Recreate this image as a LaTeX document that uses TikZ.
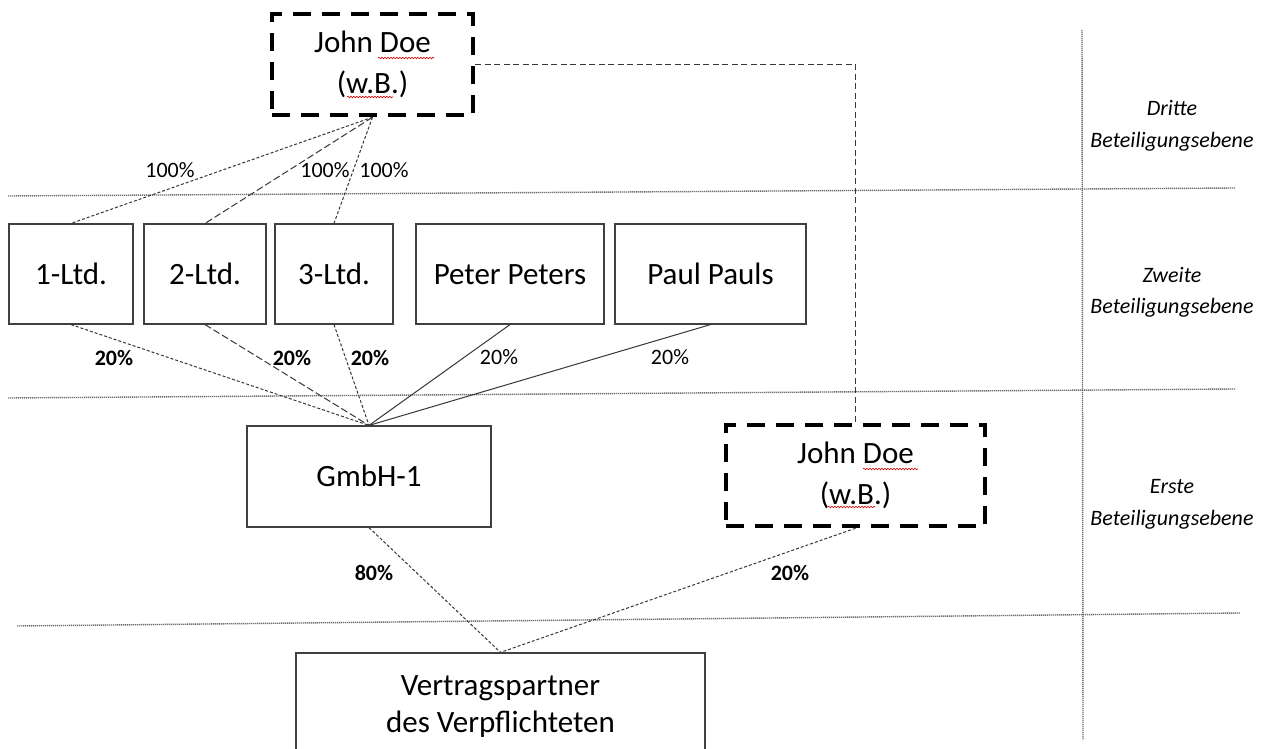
\documentclass[tikz,border=0pt]{standalone}
\usepackage{fontspec}
\setmainfont{Carlito}
\usetikzlibrary{decorations.pathmorphing}
\definecolor{boxgray}{RGB}{64,64,64}
\definecolor{darkline}{RGB}{55,55,55}
\definecolor{lvlgray}{RGB}{110,110,110}
\begin{document}
\begin{tikzpicture}[x=1pt,y=-1pt,
  box/.style={draw=boxgray, line width=1.2pt, fill=white, inner sep=0pt, font=\fontsize{31}{41}\selectfont, align=center},
  sbox/.style={draw=boxgray, line width=1.2pt, fill=white, inner sep=0pt, font=\fontsize{31}{41}\selectfont, text height=20pt, text depth=0pt},
  jdbox/.style={draw=black, line width=4.5pt, dash pattern=on 18pt off 11pt, fill=white, inner sep=0pt, font=\fontsize{31}{41}\selectfont, align=center},
  lvl/.style={draw=lvlgray, line width=1.4pt, dash pattern=on 1.2pt off 0.8pt},
  sdash/.style={draw=darkline, line width=1pt, dash pattern=on 3pt off 2pt},
  ldash/.style={draw=darkline, line width=1pt, dash pattern=on 7pt off 3pt},
  mdash/.style={draw=darkline, line width=1pt, dash pattern=on 6pt off 3.5pt},
  solidc/.style={draw=darkline, line width=1pt},
  pct/.style={font=\fontsize{22}{26}\selectfont},
  bpct/.style={font=\fontsize{22}{26}\selectfont\bfseries},
  lev/.style={font=\fontsize{22}{26}\selectfont\itshape, anchor=base},
  squig/.style={draw=red!85!black, line width=0.6pt, decorate, decoration={snake, amplitude=0.8pt, segment length=3pt}}
]
\clip (0,0) rectangle (1267,749);
\fill[white] (0,0) rectangle (1267,749);

% level lines
\draw[lvl] (8,196) -- (1235,188);
\draw[lvl] (8,398) -- (1235,389);
\draw[lvl] (17,626) -- (1240,613);
\draw[lvl] (1082,30) -- (1083,740);

% level labels
\node[lev] (d1) at (1172,116) {Dritte};
\node[lev] (d2) at (1172,148) {Beteiligungsebene};
\node[lev] (z1) at (1172,282) {Zweite};
\node[lev] (z2) at (1172,313) {Beteiligungsebene};
\node[lev] (e1) at (1172,493) {Erste};
\node[lev] (e2) at (1172,525) {Beteiligungsebene};

% boxes
\node[jdbox, minimum width=201pt, minimum height=101pt] (jdtop) at (372.5,64.5) {John Doe\\(w.B.)};
\node[sbox, minimum width=124pt, minimum height=100pt] (l1) at (71,274) {1-Ltd.};
\node[sbox, minimum width=122pt, minimum height=100pt] (l2) at (205,274) {2-Ltd.};
\node[sbox, minimum width=118pt, minimum height=100pt] (l3) at (334,274) {3-Ltd.};
\node[sbox, minimum width=188pt, minimum height=100pt] (peter) at (510,274) {Peter Peters};
\node[sbox, minimum width=191pt, minimum height=100pt] (paul) at (710.5,274) {Paul Pauls};
\node[sbox, minimum width=244pt, minimum height=101pt] (gmbh) at (369,476.5) {GmbH-1};
\node[jdbox, minimum width=259pt, minimum height=101pt] (jdlow) at (855.5,475.5) {John Doe\\(w.B.)};
\node[box, minimum width=409pt, minimum height=107pt, font=\fontsize{31}{37}\selectfont] (vertrag) at (500.5,706.5) {Vertragspartner\\des Verpflichteten};

% connectors
\draw[sdash] (jdtop.south) -- (l1.north);
\draw[ldash] (jdtop.south) -- (l2.north);
\draw[sdash] (jdtop.south) -- (l3.north);
\draw[mdash] (jdtop.east) -| (jdlow.north);
\draw[sdash] (l1.south) -- (gmbh.north);
\draw[ldash] (l2.south) -- (gmbh.north);
\draw[sdash] (l3.south) -- (gmbh.north);
\draw[solidc] (peter.south) -- (gmbh.north);
\draw[solidc] (paul.south) -- (gmbh.north);
\draw[sdash] (gmbh.south) -- (vertrag.north);
\draw[sdash] (jdlow.south) -- (vertrag.north);

% percent labels
\node[pct] (p1) at (170,170) {100\%};
\node[pct] (p2) at (325,170) {100\%};
\node[pct] (p3) at (384,170) {100\%};
\node[bpct] (q1) at (114,358) {20\%};
\node[bpct] (q2) at (292,358) {20\%};
\node[bpct] (q3) at (370,358) {20\%};
\node[pct] (q4) at (499,357) {20\%};
\node[pct] (q5) at (670,357) {20\%};
\node[bpct] (r1) at (374,573) {80\%};
\node[bpct] (r2) at (790,573) {20\%};

% spell-check squiggles
\draw[squig] (378,58) -- (434,58);
\draw[squig] (347,97) -- (393,97);
\draw[squig] (863,469) -- (918,469);
\draw[squig] (828,507) -- (875,507);
\end{tikzpicture}
\end{document}
